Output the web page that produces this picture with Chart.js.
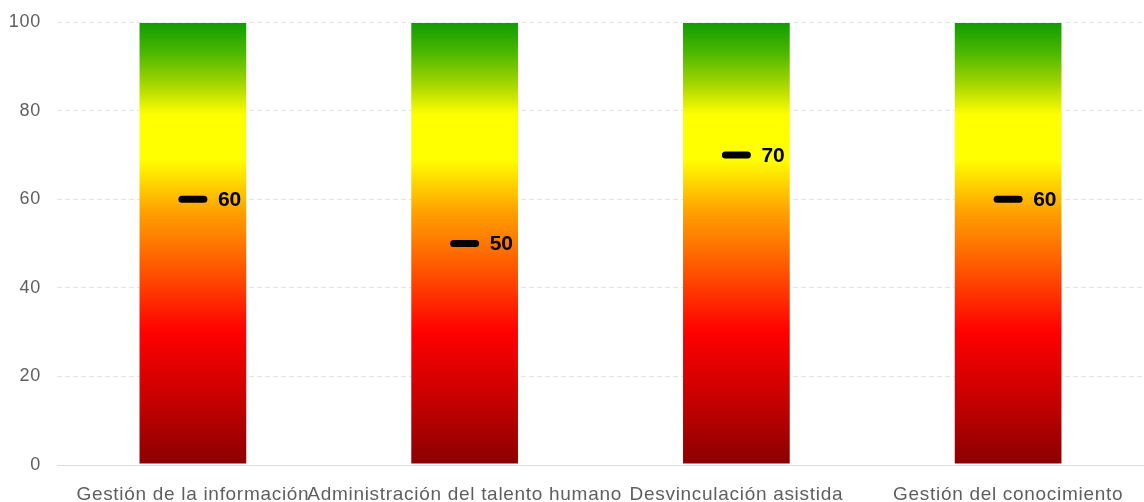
<!DOCTYPE html>
<html>
<head>
<meta charset="utf-8">
<script src="https://cdn.jsdelivr.net/npm/chart.js@4.4.0/dist/chart.umd.min.js"></script>
<style>
    html, body { margin: 0; padding: 0; background: #fff; }
    #wrap { width: 1144px; height: 502px; position: relative; }
</style>
</head>
<body>
<div id="wrap"><canvas id="scoreChart"></canvas></div>
<script>
/* ------------------------------------------------------------
   DATA
------------------------------------------------------------- */
const categories = [
    "Gestión de la información",
    "Administración del talento humano",
    "Desvinculación asistida",
    "Gestión del conocimiento"
];
const scaleTop = [100, 100, 100, 100];   // full coloured bar
const scores = [60, 50, 70, 60];         // black marker + label
const yTicks = [0, 20, 40, 60, 80, 100];

// red -> orange -> yellow -> green, bottom to top
const gradientStops = [
    [0.00, "#8a0000"],
    [0.15, "#c80000"],
    [0.30, "#ff0000"],
    [0.45, "#ff5a00"],
    [0.57, "#ffa000"],
    [0.69, "#ffff00"],
    [0.79, "#ffff00"],
    [0.86, "#a4d600"],
    [0.93, "#4cb800"],
    [1.00, "#0e9c00"]
];

/* ------------------------------------------------------------
   HELPERS
------------------------------------------------------------- */
function barGradient(context) {
    const { ctx, chartArea } = context.chart;
    if (!chartArea) return "#ff0000";
    const g = ctx.createLinearGradient(0, chartArea.bottom, 0, chartArea.top);
    gradientStops.forEach(([pos, col]) => g.addColorStop(pos, col));
    return g;
}

// slightly wider text, like the original rendering
const spacingPlugin = {
    id: "spacing",
    beforeDraw(chart) {
        chart.ctx.letterSpacing = "0.7px";
    }
};

// short black marker with value label
const markerPlugin = {
    id: "markers",
    afterDatasetsDraw(chart) {
        const ctx = chart.ctx;
        const meta = chart.getDatasetMeta(1);
        ctx.save();
        ctx.letterSpacing = "0px";
        meta.data.forEach((pt, i) => {
            ctx.beginPath();
            ctx.lineCap = "round";
            ctx.lineWidth = 7;
            ctx.strokeStyle = "#000";
            ctx.moveTo(pt.x - 11, pt.y);
            ctx.lineTo(pt.x + 11, pt.y);
            ctx.stroke();

            ctx.fillStyle = "#000";
            ctx.font = "bold 21px 'Liberation Sans', Arial, sans-serif";
            ctx.textAlign = "left";
            ctx.textBaseline = "middle";
            ctx.fillText(String(scores[i]), pt.x + 25, pt.y + 1);
        });
        ctx.restore();
    }
};

/* ------------------------------------------------------------
   CHART
------------------------------------------------------------- */
const canvas = document.querySelector("#scoreChart");

new Chart(canvas, {
    type: "bar",
    data: {
        labels: categories,
        datasets: [
            {
                label: "Escala",
                data: scaleTop,
                backgroundColor: barGradient,
                borderColor: "rgba(255,255,255,0.35)",
                borderWidth: 1,
                borderSkipped: false,
                categoryPercentage: 1,
                barPercentage: 0.4
            },
            {
                type: "line",
                label: "Puntaje",
                data: scores,
                showLine: false,
                pointRadius: 0,
                pointHoverRadius: 0
            }
        ]
    },
    options: {
        responsive: true,
        maintainAspectRatio: false,
        animation: false,
        events: [],
        layout: { padding: { top: 22, right: 0, left: 0, bottom: 0 } },
        plugins: {
            legend: { display: false },
            tooltip: { enabled: false }
        },
        scales: {
            x: {
                grid: { display: false },
                border: { display: true, color: "#dcdcdc", width: 1 },
                ticks: {
                    autoSkip: false,
                    maxRotation: 0,
                    minRotation: 0,
                    padding: 10,
                    color: "#5f5f5f",
                    font: { family: "'Liberation Sans', Arial, sans-serif", size: 19 }
                },
                afterFit(axis) { axis.height = 37; }
            },
            y: {
                min: 0,
                max: 100,
                afterBuildTicks(axis) {
                    axis.ticks = yTicks.map(v => ({ value: v }));
                },
                grid: {
                    color: "#e4e4e4",
                    drawTicks: true,
                    tickLength: 11,
                    tickColor: "rgba(0,0,0,0)"
                },
                border: { display: false, dash: [5, 3] },
                ticks: {
                    padding: 5,
                    color: "#5f5f5f",
                    font: { family: "'Liberation Sans', Arial, sans-serif", size: 18 }
                },
                afterFit(axis) { axis.width = 57; }
            }
        }
    },
    plugins: [spacingPlugin, markerPlugin]
});
</script>
</body>
</html>
